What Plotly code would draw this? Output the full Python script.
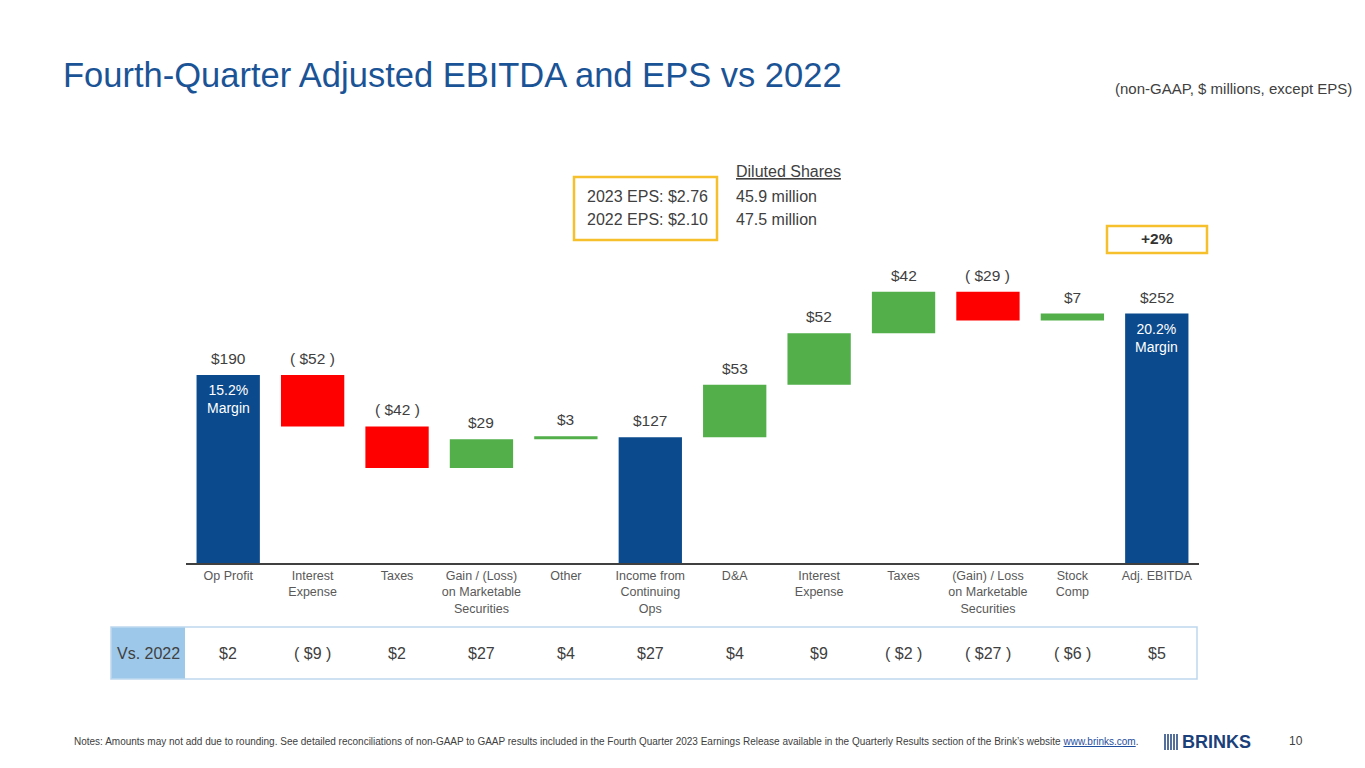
import plotly.graph_objects as go

# chart data
categories = ["Op Profit", "Interest<br>Expense", "Taxes",
              "Gain / (Loss)<br>on Marketable<br>Securities", "Other",
              "Income from<br>Continuing<br>Ops", "D&A", "Interest<br>Expense",
              "Taxes", "(Gain) / Loss<br>on Marketable<br>Securities",
              "Stock<br>Comp", "Adj. EBITDA"]
values = [190, -52, -42, 29, 3, 127, 53, 52, 42, -29, 7, 252]
measures = ["absolute", "relative", "relative", "relative", "relative", "absolute",
            "relative", "relative", "relative", "relative", "relative", "absolute"]
vs_2022 = [2, -9, 2, 27, 4, 27, 4, 9, -2, -27, -6, 5]
margins = {0: "15.2%<br>Margin", 11: "20.2%<br>Margin"}

BLUE = "#0B4A8C"
GREEN = "#52AF4A"
RED = "#FF0000"
GREY = "#404040"
FONT = "Arial, Liberation Sans, sans-serif"

# page body has an 8px margin, so work in page pixels and shift
OFF = 8
L, R, T, B = 186, 1199, 263, 563
W, H = 1365 - 2 * OFF, 768 - 2 * OFF


def px(x):
    return (x - L) / (R - L)


def py(y):
    return (B - y) / (B - T)


def money(v):
    return f"${v}" if v >= 0 else f"( ${-v} )"


def note(x, y, text, size, color=GREY, xanchor="center", **kw):
    return dict(x=px(x), y=py(y), xref="paper", yref="paper", text=text,
                showarrow=False, xanchor=xanchor, yanchor="middle",
                font=dict(size=size, color=color, **kw))


xs = list(range(len(categories)))

fig = go.Figure(go.Waterfall(
    x=xs, y=values, measure=measures,
    increasing=dict(marker=dict(color=GREEN)),
    decreasing=dict(marker=dict(color=RED)),
    totals=dict(marker=dict(color=BLUE)),
    connector=dict(visible=False),
    hoverinfo="skip",
))

annotations = []
running = 0
for i, (v, m) in enumerate(zip(values, measures)):
    if m == "absolute":
        top = v
        running = v
    else:
        top = max(running, running + v)
        running += v
    annotations.append(dict(x=i, y=top, xref="x", yref="y", text=money(v),
                            showarrow=False, xanchor="center", yanchor="bottom", yshift=6,
                            font=dict(size=15.5, color=GREY)))
    if i in margins:
        annotations.append(dict(x=i, y=top, xref="x", yref="y", text=margins[i],
                                showarrow=False, xanchor="center", yanchor="top", yshift=-5,
                                font=dict(size=14, color="white")))
    # comparison row
    annotations.append(dict(x=i, y=py(653), xref="x", yref="paper", text=money(vs_2022[i]),
                            showarrow=False, xanchor="center", yanchor="middle",
                            font=dict(size=16, color=GREY)))

annotations += [
    note(148, 653, "Vs. 2022", 16),
    note(61, 75, "Fourth-Quarter Adjusted EBITDA and EPS vs 2022", 34.5, "#1B5496", "left"),
    note(1354, 88, "(non-GAAP, $ millions, except EPS)", 15, GREY, "right"),
    note(585, 196, "2023 EPS: $2.76", 16, GREY, "left"),
    note(585, 219, "2022 EPS: $2.10", 16, GREY, "left"),
    note(734, 171, "<u>Diluted Shares</u>", 16, GREY, "left"),
    note(734, 196, "45.9 million", 16, GREY, "left"),
    note(734, 219, "47.5 million", 16, GREY, "left"),
    note(1157, 239, "<b>+2%</b>", 15.5, "#333333"),
    note(72, 741,
         "Notes: Amounts may not add due to rounding. See detailed reconciliations of non-GAAP to GAAP "
         "results included in the Fourth Quarter 2023 Earnings Release available in the Quarterly "
         "Results section of the Brink\u2019s website <span style='color:#1F4E9E'><u>www.brinks.com</u></span>.",
         10, GREY, "left"),
    note(1180, 742, "<b>BRINKS</b>", 18, "#1B3F7A", "left"),
    note(1296, 741, "10", 12, GREY),
]

shapes = [
    # EPS box
    dict(type="rect", xref="paper", yref="paper", x0=px(574), x1=px(717), y0=py(177), y1=py(240),
         line=dict(color="#F5C02B", width=2.5)),
    # +2% box
    dict(type="rect", xref="paper", yref="paper", x0=px(1107), x1=px(1207), y0=py(226), y1=py(253),
         line=dict(color="#F5C02B", width=2.5)),
    # comparison row
    dict(type="rect", xref="paper", yref="paper", x0=px(111), x1=px(185), y0=py(627), y1=py(679),
         fillcolor="#9DC8EA", line=dict(width=0), layer="below"),
    dict(type="rect", xref="paper", yref="paper", x0=px(111), x1=px(1197), y0=py(627), y1=py(679),
         line=dict(color="#BDD7EE", width=1.5)),
]
# logo stripes
for k in range(5):
    xp = 1165 + k * 3
    shapes.append(dict(type="line", xref="paper", yref="paper", x0=px(xp), x1=px(xp),
                       y0=py(734), y1=py(750), line=dict(color="#1B3F7A", width=1.5)))

fig.update_layout(
    width=W, height=H,
    margin=dict(l=L - OFF, r=W - (R - OFF), t=T - OFF, b=H - (B - OFF)),
    paper_bgcolor="white", plot_bgcolor="white",
    font=dict(family=FONT, color=GREY),
    showlegend=False,
    waterfallgap=0.25,
    annotations=annotations,
    shapes=shapes,
)
fig.update_xaxes(tickmode="array", tickvals=xs, ticktext=categories,
                 range=[-0.5, len(xs) - 0.5],
                 tickfont=dict(size=12.5, color="#595959"),
                 showline=True, linecolor="#404040", linewidth=2,
                 showgrid=False, ticks="", fixedrange=True)
fig.update_yaxes(range=[0, (B - T) / 0.99], visible=False, showgrid=False,
                 zeroline=False, fixedrange=True)

fig.write_html("out.html", config={"displayModeBar": False})
